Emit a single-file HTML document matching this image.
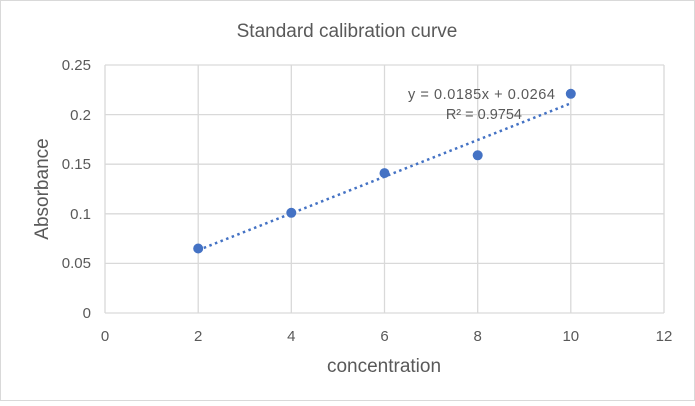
<!DOCTYPE html>
<html><head><meta charset="utf-8"><style>
body{margin:0;background:#fff;}
svg text{font-family:"Liberation Sans",sans-serif;fill:#595959;}
</style></head><body>
<svg width="695" height="401" xmlns="http://www.w3.org/2000/svg">
<rect x="0.5" y="0.5" width="694" height="400" fill="#fff" stroke="#d9d9d9"/>
<text x="347" y="37" font-size="19" text-anchor="middle">Standard calibration curve</text>
<g stroke="#d9d9d9" stroke-width="1.3">
<line x1="105" y1="65" x2="664" y2="65"/>
<line x1="105" y1="114.6" x2="664" y2="114.6"/>
<line x1="105" y1="164.2" x2="664" y2="164.2"/>
<line x1="105" y1="213.8" x2="664" y2="213.8"/>
<line x1="105" y1="263.4" x2="664" y2="263.4"/>
<line x1="105" y1="313" x2="664" y2="313"/>
<line x1="105" y1="65" x2="105" y2="313"/>
<line x1="198.2" y1="65" x2="198.2" y2="313"/>
<line x1="291.3" y1="65" x2="291.3" y2="313"/>
<line x1="384.5" y1="65" x2="384.5" y2="313"/>
<line x1="477.7" y1="65" x2="477.7" y2="313"/>
<line x1="570.8" y1="65" x2="570.8" y2="313"/>
<line x1="664" y1="65" x2="664" y2="313"/>
</g>
<g font-size="15" text-anchor="end">
<text x="91" y="70">0.25</text><text x="91" y="120">0.2</text><text x="91" y="169">0.15</text>
<text x="91" y="219">0.1</text><text x="91" y="268">0.05</text><text x="91" y="318">0</text>
</g>
<g font-size="15" text-anchor="middle">
<text x="105" y="341">0</text><text x="198.2" y="341">2</text><text x="291.3" y="341">4</text>
<text x="384.5" y="341">6</text><text x="477.7" y="341">8</text><text x="570.8" y="341">10</text><text x="664" y="341">12</text>
</g>
<text x="384" y="372" font-size="19" text-anchor="middle">concentration</text>
<text transform="translate(48,189) rotate(-90)" font-size="19" text-anchor="middle">Absorbance</text>
<line x1="198.2" y1="250.1" x2="570.8" y2="103.3" stroke="#4472c4" stroke-width="2.5" stroke-dasharray="2.5 3.5"/>
<g fill="#4472c4">
<circle cx="198.2" cy="248.5" r="5"/>
<circle cx="291.3" cy="212.8" r="5"/>
<circle cx="384.5" cy="173.1" r="5"/>
<circle cx="477.7" cy="155.3" r="5"/>
<circle cx="570.8" cy="93.8" r="5"/>
</g>
<text x="555" y="99" font-size="14.5" text-anchor="end" textLength="147">y = 0.0185x + 0.0264</text>
<text x="522" y="119" font-size="14.5" text-anchor="end">R² = 0.9754</text>
</svg>
</body></html>
